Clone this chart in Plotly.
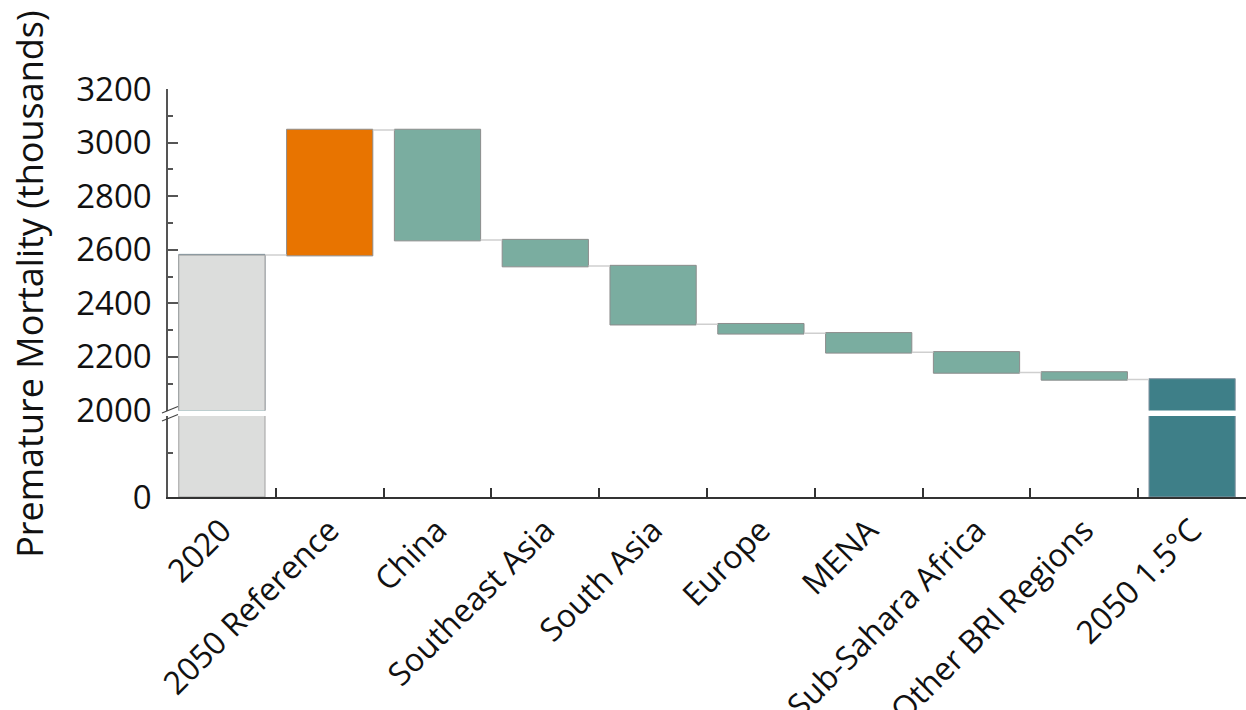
import plotly.graph_objects as go

# Categories along the x axis
categories = ["2020", "2050 Reference", "China", "Southeast Asia", "South Asia",
              "Europe", "MENA", "Sub-Sahara Africa", "Other BRI Regions", "2050 1.5°C"]

# Premature mortality (thousands): 2020 level, reference increase, regional reductions
base_2020 = 2580
reference_increase = 467
regional_changes = [-411, -97, -217, -34, -71, -75, -26]

# Tick labels of the two axis segments
upper_ticks = [2000, 2200, 2400, 2600, 2800, 3000, 3200]
lower_ticks = [0]

measures = ["absolute", "relative"] + ["relative"] * len(regional_changes) + ["total"]
wf_values = [base_2020, reference_increase] + regional_changes + [0]
final_total = base_2020 + reference_increase + sum(regional_changes)

GRAY = "#DCDDDC"
ORANGE = "#E87400"
TEAL = "#7AADA0"
DARK_TEAL = "#3E7F88"
EDGE = "#8C8C8C"
FONT = "Open Sans"

fig = go.Figure()

# Upper segment: waterfall from 2020 through the regional reductions
fig.add_trace(go.Waterfall(
    x=categories, y=wf_values, measure=measures,
    xaxis="x", yaxis="y2",
    increasing=dict(marker=dict(color=ORANGE, line=dict(color=EDGE, width=1))),
    decreasing=dict(marker=dict(color=TEAL, line=dict(color=EDGE, width=1))),
    totals=dict(marker=dict(color=DARK_TEAL, line=dict(color="#8596A3", width=1))),
    connector=dict(line=dict(color="#CFCFCF", width=1.5)),
    showlegend=False, hoverinfo="skip",
))
# 2020 starting bar in gray on top of the waterfall's absolute bar
fig.add_trace(go.Bar(
    x=[categories[0]], y=[base_2020], xaxis="x", yaxis="y2", width=0.8,
    marker=dict(color=GRAY, line=dict(color="#A0A0A0", width=1)),
    showlegend=False, hoverinfo="skip",
))

# Lower segment: only the two full-height bars reach below the break
fig.add_trace(go.Bar(
    x=[categories[0], categories[-1]], y=[base_2020, final_total],
    xaxis="x", yaxis="y", width=0.8,
    marker=dict(color=[GRAY, DARK_TEAL], line=dict(color=["#A0A0A0", "#8596A3"], width=1)),
    showlegend=False, hoverinfo="skip",
))

L, R, T, B = 168, 0, 89, 213
plot_h = 710 - T - B
lower_top = (497 - 416) / plot_h
upper_bottom = (497 - 410.5) / plot_h

axis_common = dict(
    showline=True, linecolor="#555555", linewidth=1.5,
    ticks="inside", ticklen=10, tickcolor="#555555", tickwidth=1.5,
    showgrid=False, zeroline=False, automargin=False,
    tickfont=dict(family=FONT, size=33, color="#111111"),
    ticklabelstandoff=8,
)

fig.update_layout(
    width=1246, height=710,
    margin=dict(l=L, r=R, t=T, b=B, autoexpand=False),
    paper_bgcolor="white", plot_bgcolor="white",
    barmode="overlay", waterfallgap=0.2, bargap=0.2,
    xaxis=dict(
        type="category", categoryorder="array", categoryarray=categories,
        showline=True, linecolor="#333333", linewidth=1.5,
        ticks="inside", tickson="boundaries", ticklen=9, tickcolor="#333333", tickwidth=1.5,
        tickangle=-45, showgrid=False, anchor="y", automargin=False,
        tickfont=dict(family=FONT, size=32, color="#111111"),
        ticklabelstandoff=0,
    ),
    yaxis=dict(
        domain=[0, lower_top], range=[0, 1840],
        tickvals=lower_ticks, ticktext=[str(v) for v in lower_ticks],
        minor=dict(dtick=1000, ticks="inside", ticklen=5, tickcolor="#555555", tickwidth=1.5),
        anchor="x", **axis_common,
    ),
    yaxis2=dict(
        domain=[upper_bottom, 1], range=[2000, 3200],
        tickvals=upper_ticks, ticktext=[str(v) for v in upper_ticks],
        minor=dict(dtick=100, ticks="inside", ticklen=5, tickcolor="#555555", tickwidth=1.5),
        anchor="x", **axis_common,
    ),
    annotations=[dict(
        text="Premature Mortality (thousands)", textangle=-90,
        xref="paper", yref="paper", x=(30 - L) / (1246 - L - R), y=0.52,
        xanchor="center", yanchor="middle", showarrow=False,
        font=dict(family=FONT, size=36, color="#111111"),
    )],
)

# Axis-break marks on the y axis
W = 1246 - L - R
def px(xp, yp):
    return (xp - L) / W, (710 - B - yp) / plot_h

for (x0, y0, x1, y1) in [(162, 413, 178, 406.5), (162, 421, 178, 414.5)]:
    a0, b0 = px(x0, y0)
    a1, b1 = px(x1, y1)
    fig.add_shape(type="line", xref="paper", yref="paper", x0=a0, y0=b0, x1=a1, y1=b1,
                  line=dict(color="#444444", width=1.2))

fig.write_html("out.html")
